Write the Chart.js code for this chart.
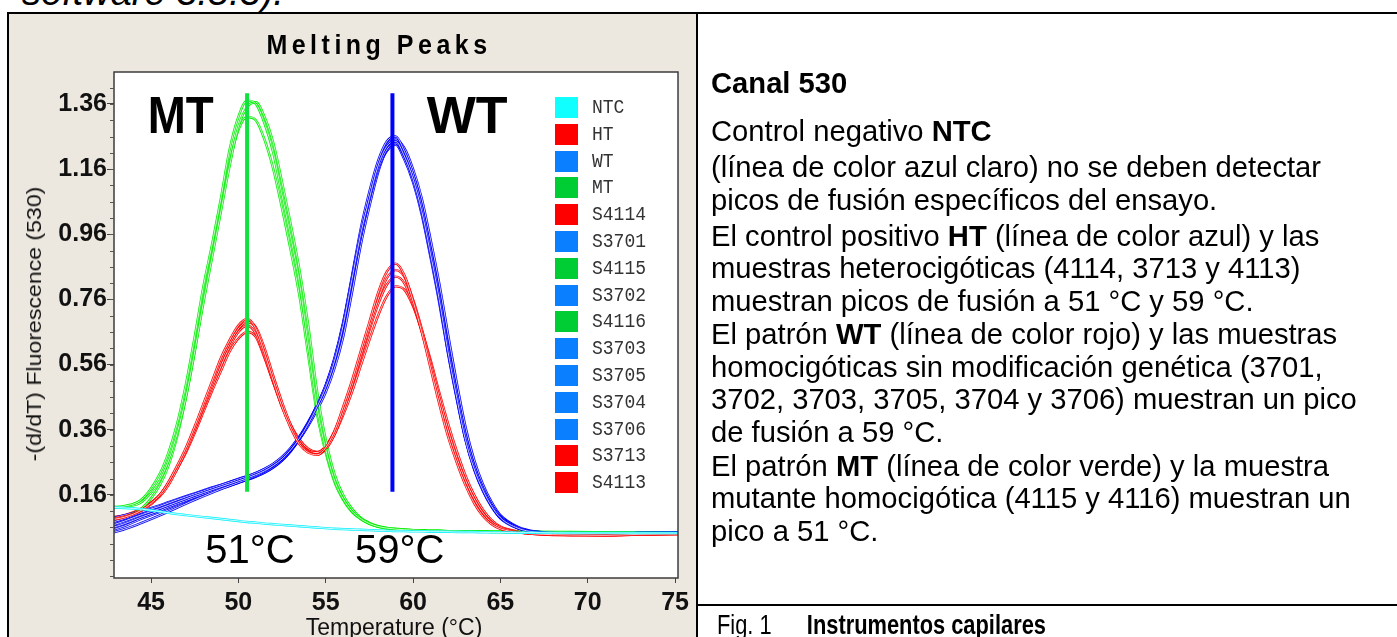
<!DOCTYPE html>
<html>
<head>
<meta charset="utf-8">
<script src="https://cdn.jsdelivr.net/npm/chart.js@4"></script>
<style>
  body { margin: 0; width: 1397px; height: 637px; overflow: hidden; position: relative; background: #fff;
         font-family: "Liberation Sans", Arial, sans-serif; color: #000; }
  .abs { position: absolute; }
  .rule { position: absolute; background: #000; }
  #leftCell { left: 9px; top: 14px; width: 688px; height: 623px; background: #ece7df; }
  #chartCanvas { position: absolute; left: 0; top: 0; }
  .txt { position: absolute; left: 711px; font-size: 29.2px; white-space: nowrap; line-height: 26px; }
  #legend .row { position: absolute; left: 555px; height: 21px; }
  #legend .sw { position: absolute; left: 0; top: 0; width: 23px; height: 21px; }
  #legend .lb { position: absolute; left: 37px; top: -2px; font-family: "Liberation Mono", "Courier New", monospace;
                font-size: 18px; color: #333; line-height: 24px; transform: scaleY(1.15); transform-origin: left center; }
</style>
</head>
<body>
<div class="abs" style="left:22px; top:-26px; font-size:38px; line-height:36px; font-style:italic; white-space:nowrap;">software 3.5.3).</div>
<div id="leftCell" class="abs"></div>
<div class="rule" style="left:7px; top:12px; width:1390px; height:2px;"></div>
<div class="rule" style="left:7px; top:12px; width:2px; height:625px;"></div>
<div class="rule" style="left:696px; top:12px; width:2px; height:625px;"></div>
<div class="rule" style="left:696px; top:604px; width:701px; height:2px;"></div>

<canvas id="chartCanvas" width="1397" height="637"></canvas>

<div class="abs" style="left:379px; top:45px; transform: translate(-50%,-50%) scaleY(1.1); font-weight:bold; font-size:25px; letter-spacing:4.5px; white-space:nowrap;">Melting Peaks</div>
<div class="abs" style="left:34px; top:324px; transform: translate(-50%,-50%) rotate(-90deg) scaleX(1.1); font-size:21px; white-space:nowrap; color:#111;">-(d/dT) Fluorescence (530)</div>
<div class="abs" style="left:394px; top:627px; transform: translate(-50%,-50%); font-size:23px; white-space:nowrap; color:#111;">Temperature (°C)</div>
<div id="legend"></div>

<div class="txt" style="top:70px; font-weight:bold;">Canal 530</div>
<div class="txt" style="top:118px;">Control negativo <b>NTC</b></div>
<div class="txt" style="top:154px;">(línea de color azul claro) no se deben detectar</div>
<div class="txt" style="top:187px;">picos de fusión específicos del ensayo.</div>
<div class="txt" style="top:223px;">El control positivo <b>HT</b> (línea de color azul) y las</div>
<div class="txt" style="top:255px;">muestras heterocigóticas (4114, 3713 y 4113)</div>
<div class="txt" style="top:288px;">muestran picos de fusión a 51 °C y 59 °C.</div>
<div class="txt" style="top:321px;">El patrón <b>WT</b> (línea de color rojo) y las muestras</div>
<div class="txt" style="top:354px;">homocigóticas sin modificación genética (3701,</div>
<div class="txt" style="top:386px;">3702, 3703, 3705, 3704 y 3706) muestran un pico</div>
<div class="txt" style="top:419px;">de fusión a 59 °C.</div>
<div class="txt" style="top:453px;">El patrón <b>MT</b> (línea de color verde) y la muestra</div>
<div class="txt" style="top:485px;">mutante homocigótica (4115 y 4116) muestran un</div>
<div class="txt" style="top:518px;">pico a 51 °C.</div>
<div class="txt" style="top:612px; left:717px; font-size:28px; transform: scaleX(0.78); transform-origin:left center;">Fig. 1&nbsp;&nbsp;&nbsp;&nbsp;<b style="margin-left:14px;">Instrumentos capilares</b></div>

<script>
// Melting peak data (temperature in °C, -(d/dT) fluorescence)
const temps = [
  42.5, 43.5, 44.5, 45.5, 46, 46.5, 47, 47.5, 48, 48.5,
  49, 49.5, 50, 50.5, 51, 51.5, 52, 52.5, 53, 53.5,
  54, 54.5, 55, 55.5, 56, 56.5, 57, 57.5, 58, 58.5,
  59, 59.5, 60, 60.5, 61, 61.5, 62, 62.5, 63, 63.5,
  64, 64.5, 65, 66, 67, 69, 71, 73, 75.5
];

const ntc = [
  0.122, 0.12, 0.116, 0.109, 0.105, 0.101, 0.098, 0.095, 0.092, 0.089,
  0.086, 0.083, 0.08, 0.077, 0.075, 0.072, 0.07, 0.068, 0.066, 0.064,
  0.062, 0.06, 0.058, 0.056, 0.055, 0.054, 0.053, 0.052, 0.051, 0.05,
  0.049, 0.049, 0.048, 0.048, 0.047, 0.047, 0.047, 0.046, 0.046, 0.046,
  0.045, 0.045, 0.045, 0.044, 0.044, 0.043, 0.043, 0.043, 0.043
];

// heterozygous (red)
const ht = [
  0.082, 0.092, 0.115, 0.16, 0.2, 0.25, 0.305, 0.37, 0.44, 0.51,
  0.58, 0.635, 0.68, 0.70, 0.67, 0.595, 0.51, 0.43, 0.365, 0.315,
  0.29, 0.283, 0.305, 0.355, 0.43, 0.51, 0.6, 0.69, 0.78, 0.845,
  0.87, 0.835, 0.755, 0.66, 0.55, 0.44, 0.34, 0.26, 0.19, 0.135,
  0.095, 0.07, 0.056, 0.045, 0.04, 0.037, 0.036, 0.039, 0.04
];
const s4114 = [
  0.085, 0.094, 0.113, 0.155, 0.19, 0.24, 0.295, 0.36, 0.43, 0.5,
  0.57, 0.625, 0.67, 0.69, 0.675, 0.61, 0.525, 0.445, 0.375, 0.322,
  0.293, 0.284, 0.3, 0.345, 0.415, 0.495, 0.585, 0.675, 0.76, 0.825,
  0.85, 0.83, 0.76, 0.67, 0.565, 0.46, 0.36, 0.275, 0.205, 0.148,
  0.105, 0.076, 0.06, 0.046, 0.04, 0.036, 0.036, 0.038, 0.04
];
const s3713 = [
  0.088, 0.096, 0.118, 0.16, 0.198, 0.245, 0.3, 0.36, 0.425, 0.49,
  0.555, 0.615, 0.66, 0.68, 0.655, 0.585, 0.505, 0.43, 0.37, 0.322,
  0.296, 0.29, 0.31, 0.355, 0.42, 0.495, 0.58, 0.665, 0.745, 0.805,
  0.83, 0.81, 0.745, 0.66, 0.56, 0.455, 0.355, 0.27, 0.2, 0.145,
  0.1, 0.074, 0.058, 0.046, 0.041, 0.038, 0.037, 0.039, 0.041
];
const s4113 = [
  0.09, 0.098, 0.12, 0.158, 0.195, 0.24, 0.29, 0.35, 0.415, 0.48,
  0.54, 0.6, 0.64, 0.66, 0.645, 0.58, 0.505, 0.435, 0.375, 0.33,
  0.302, 0.292, 0.305, 0.345, 0.405, 0.475, 0.555, 0.635, 0.71, 0.77,
  0.80, 0.79, 0.74, 0.665, 0.575, 0.475, 0.38, 0.295, 0.22, 0.16,
  0.115, 0.083, 0.063, 0.048, 0.042, 0.038, 0.037, 0.039, 0.04
];

// wild type (blue)
const wt = [
  0.062, 0.08, 0.1, 0.118, 0.128, 0.138, 0.148, 0.158, 0.167, 0.176,
  0.185, 0.194, 0.203, 0.212, 0.222, 0.234, 0.25, 0.27, 0.298, 0.334,
  0.378, 0.43, 0.49, 0.57, 0.68, 0.82, 0.96, 1.07, 1.17, 1.23,
  1.245, 1.2, 1.13, 1.03, 0.9, 0.76, 0.6, 0.46, 0.33, 0.24,
  0.175, 0.125, 0.09, 0.058, 0.046, 0.042, 0.042, 0.043, 0.045
];
const s3701 = [
  0.04, 0.055, 0.075, 0.097, 0.109, 0.121, 0.133, 0.145, 0.156, 0.167,
  0.178, 0.188, 0.198, 0.208, 0.219, 0.232, 0.249, 0.27, 0.299, 0.336,
  0.381, 0.435, 0.497, 0.58, 0.69, 0.83, 0.975, 1.09, 1.185, 1.245,
  1.26, 1.215, 1.145, 1.045, 0.915, 0.775, 0.615, 0.475, 0.345, 0.25,
  0.182, 0.13, 0.094, 0.06, 0.047, 0.043, 0.042, 0.043, 0.045
];
const s3702 = [
  0.072, 0.088, 0.108, 0.125, 0.135, 0.145, 0.154, 0.163, 0.172, 0.181,
  0.19, 0.199, 0.208, 0.217, 0.227, 0.24, 0.256, 0.277, 0.305, 0.34,
  0.384, 0.435, 0.495, 0.575, 0.68, 0.815, 0.95, 1.065, 1.16, 1.22,
  1.24, 1.2, 1.135, 1.04, 0.91, 0.77, 0.615, 0.47, 0.34, 0.245,
  0.178, 0.128, 0.092, 0.059, 0.047, 0.043, 0.043, 0.044, 0.046
];
const s3703 = [
  0.085, 0.098, 0.112, 0.128, 0.138, 0.147, 0.156, 0.165, 0.174, 0.183,
  0.191, 0.2, 0.209, 0.218, 0.228, 0.239, 0.254, 0.273, 0.299, 0.331,
  0.372, 0.42, 0.475, 0.548, 0.645, 0.78, 0.925, 1.045, 1.15, 1.22,
  1.25, 1.225, 1.16, 1.07, 0.945, 0.81, 0.655, 0.505, 0.37, 0.268,
  0.193, 0.138, 0.098, 0.062, 0.048, 0.043, 0.042, 0.043, 0.045
];
const s3705 = [
  0.055, 0.072, 0.093, 0.112, 0.123, 0.133, 0.143, 0.153, 0.162, 0.171,
  0.18, 0.189, 0.198, 0.207, 0.217, 0.229, 0.245, 0.266, 0.295, 0.332,
  0.377, 0.43, 0.492, 0.572, 0.68, 0.815, 0.955, 1.065, 1.16, 1.215,
  1.235, 1.19, 1.12, 1.02, 0.89, 0.75, 0.595, 0.455, 0.33, 0.238,
  0.172, 0.123, 0.088, 0.057, 0.046, 0.042, 0.041, 0.042, 0.044
];
const s3704 = [
  0.068, 0.084, 0.104, 0.121, 0.131, 0.141, 0.151, 0.16, 0.169, 0.178,
  0.187, 0.196, 0.205, 0.214, 0.224, 0.236, 0.251, 0.271, 0.298, 0.333,
  0.375, 0.425, 0.483, 0.56, 0.665, 0.8, 0.94, 1.06, 1.16, 1.225,
  1.245, 1.21, 1.145, 1.05, 0.925, 0.79, 0.635, 0.49, 0.355, 0.258,
  0.186, 0.133, 0.095, 0.06, 0.047, 0.043, 0.042, 0.043, 0.045
];
const s3706 = [
  0.048, 0.065, 0.088, 0.108, 0.119, 0.13, 0.141, 0.151, 0.161, 0.17,
  0.179, 0.188, 0.197, 0.206, 0.216, 0.228, 0.244, 0.265, 0.294, 0.331,
  0.376, 0.43, 0.493, 0.575, 0.685, 0.825, 0.965, 1.08, 1.175, 1.235,
  1.25, 1.205, 1.135, 1.035, 0.905, 0.765, 0.605, 0.465, 0.335, 0.243,
  0.176, 0.126, 0.091, 0.058, 0.046, 0.042, 0.042, 0.043, 0.045
];

// mutant (green)
const mt = [
  0.122, 0.126, 0.148, 0.225, 0.29, 0.38, 0.50, 0.645, 0.80, 0.93,
  1.07, 1.22, 1.32, 1.37, 1.36, 1.30, 1.21, 1.08, 0.95, 0.81,
  0.62, 0.43, 0.30, 0.205, 0.148, 0.11, 0.087, 0.072, 0.063, 0.058,
  0.055, 0.053, 0.052, 0.051, 0.05, 0.05, 0.049, 0.049, 0.048, 0.048,
  0.048, 0.047, 0.047, 0.046, 0.046, 0.045, 0.044, 0.043, 0.043
];
const s4115 = [
  0.12, 0.124, 0.14, 0.205, 0.265, 0.35, 0.46, 0.60, 0.75, 0.89,
  1.03, 1.17, 1.29, 1.35, 1.365, 1.32, 1.24, 1.12, 0.99, 0.85,
  0.68, 0.48, 0.33, 0.225, 0.16, 0.118, 0.09, 0.074, 0.064, 0.059,
  0.056, 0.054, 0.052, 0.051, 0.05, 0.05, 0.049, 0.049, 0.048, 0.048,
  0.047, 0.047, 0.047, 0.046, 0.046, 0.046, 0.045, 0.044, 0.044
];
const s4116 = [
  0.085, 0.092, 0.12, 0.19, 0.25, 0.34, 0.46, 0.60, 0.76, 0.90,
  1.04, 1.18, 1.28, 1.32, 1.31, 1.25, 1.16, 1.04, 0.91, 0.77,
  0.59, 0.41, 0.29, 0.2, 0.145, 0.108, 0.086, 0.071, 0.062, 0.057,
  0.054, 0.052, 0.051, 0.05, 0.049, 0.049, 0.048, 0.048, 0.047, 0.047,
  0.047, 0.046, 0.046, 0.045, 0.045, 0.044, 0.044, 0.043, 0.043
];

// legend order as in the instrument software
const sampleNames = ['NTC', 'HT', 'WT', 'MT', 'S4114', 'S3701', 'S4115', 'S3702', 'S4116', 'S3703', 'S3705', 'S3704', 'S3706', 'S3713', 'S4113'];
const sampleData = [ntc, ht, wt, mt, s4114, s3701, s4115, s3702, s4116, s3703, s3705, s3704, s3706, s3713, s4113];
const sampleGroup = ['ntc', 'ht', 'wt', 'mt', 'ht', 'wt', 'mt', 'wt', 'mt', 'wt', 'wt', 'wt', 'wt', 'ht', 'ht'];

const curveColors = { ntc: '#00f0ff', ht: '#ff0000', wt: '#0000ff', mt: '#00ee00' };
const legendColors = { ntc: '#10ffff', ht: '#ff0000', wt: '#0a7fff', mt: '#00cc33' };

// melting peak markers
const peakTemps = [50.5, 58.82];
const peakColors = ['#10e040', '#0000ff'];
const markerRange = [0.17, 1.393];
const peakLabels = ['51°C', '59°C'];
const genotypeLabels = ['MT', 'WT'];

// axis ticks
const xTicks = [45, 50, 55, 60, 65, 70, 75];
const yTicks = [0.16, 0.36, 0.56, 0.76, 0.96, 1.16, 1.36];

// Build datasets
const datasets = [];
peakTemps.forEach(function(t, i) {
    datasets.push({
        label: 'peak ' + peakLabels[i],
        data: [{ x: t, y: markerRange[0] }, { x: t, y: markerRange[1] }],
        borderColor: peakColors[i],
        borderWidth: 4,
        pointRadius: 0
    });
});
sampleNames.forEach(function(name, i) {
    datasets.push({
        label: name,
        data: sampleData[i].map((v, k) => ({ x: temps[k], y: v })),
        borderColor: curveColors[sampleGroup[i]],
        borderWidth: 2.4,
        pointRadius: 0,
        fill: false,
        hollow: true,
        cubicInterpolationMode: 'monotone'
    });
});

// White plot area, frame, minor y ticks
const framePlugin = {
    id: 'frame',
    beforeDraw(chart) {
        const a = chart.chartArea, ctx = chart.ctx;
        ctx.save();
        ctx.fillStyle = '#ffffff';
        ctx.fillRect(a.left, a.top, a.right - a.left, a.bottom - a.top);
        ctx.restore();
    },
    afterDraw(chart) {
        const a = chart.chartArea, ctx = chart.ctx, y = chart.scales.y;
        ctx.save();
        ctx.strokeStyle = '#3c3c3c';
        ctx.lineWidth = 1.5;
        ctx.strokeRect(a.left, a.top, a.right - a.left, a.bottom - a.top);
        ctx.lineWidth = 1;
        ctx.strokeStyle = '#555';
        for (let v = -0.09; v < y.max; v += 0.05) {
            const py = Math.round(y.getPixelForValue(v)) + 0.5;
            ctx.beginPath();
            ctx.moveTo(a.left - 4, py);
            ctx.lineTo(a.left, py);
            ctx.stroke();
        }
        ctx.restore();
    }
};

// The instrument draws its curves as thin double lines: re-stroke a white core
const hollowPlugin = {
    id: 'hollow',
    afterDatasetDraw(chart, args) {
        const ds = chart.data.datasets[args.index];
        if (!ds.hollow) return;
        const el = args.meta.dataset;
        const a = chart.chartArea, ctx = chart.ctx;
        const saved = el.options;
        ctx.save();
        ctx.beginPath();
        ctx.rect(a.left, a.top, a.right - a.left, a.bottom - a.top);
        ctx.clip();
        el.options = Object.assign({}, saved, { borderColor: '#ffffff', borderWidth: 0.8 });
        el.draw(ctx, a);
        el.options = saved;
        ctx.restore();
    }
};

// Big genotype / temperature annotations
const labelPlugin = {
    id: 'peakText',
    afterDatasetsDraw(chart) {
        const ctx = chart.ctx, x = chart.scales.x, y = chart.scales.y;
        ctx.save();
        ctx.fillStyle = '#000';
        ctx.textAlign = 'center';
        ctx.textBaseline = 'alphabetic';
        ctx.font = 'bold 52px "Liberation Sans", Arial, sans-serif';
        ctx.fillText(genotypeLabels[0], x.getPixelForValue(46.7), y.getPixelForValue(1.27), 66);
        ctx.fillText(genotypeLabels[1], x.getPixelForValue(63.1), y.getPixelForValue(1.27), 82);
        ctx.font = '40px "Liberation Sans", Arial, sans-serif';
        ctx.fillText(peakLabels[0], x.getPixelForValue(50.66), y.getPixelForValue(-0.049));
        ctx.fillText(peakLabels[1], x.getPixelForValue(59.23), y.getPixelForValue(-0.049));
        ctx.restore();
    }
};

const tickFont = { family: '"Liberation Sans", Arial, sans-serif', size: 25, weight: 'bold' };

const chart = new Chart(document.getElementById('chartCanvas').getContext('2d'), {
    type: 'line',
    data: { datasets: datasets },
    options: {
        responsive: false,
        animation: false,
        events: [],
        layout: { padding: { left: 14, top: 72, right: 719, bottom: 9 } },
        plugins: {
            legend: { display: false },
            title: { display: false },
            tooltip: { enabled: false }
        },
        scales: {
            x: {
                type: 'linear',
                min: 42.88,
                max: 75.17,
                afterFit: function(scale) { scale.height = 50; },
                afterBuildTicks: function(scale) { scale.ticks = xTicks.map(v => ({ value: v })); },
                grid: { drawOnChartArea: false, drawTicks: true, tickLength: 5, color: '#444' },
                border: { display: false },
                ticks: { font: tickFont, color: '#111', padding: 5, maxRotation: 0, autoSkip: false }
            },
            y: {
                type: 'linear',
                min: -0.095,
                max: 1.458,
                afterFit: function(scale) { scale.width = 100; },
                afterBuildTicks: function(scale) { scale.ticks = yTicks.map(v => ({ value: v })); },
                grid: { drawOnChartArea: false, drawTicks: true, tickLength: 7, color: '#444' },
                border: { display: false },
                ticks: { font: tickFont, color: '#111', padding: 0, callback: v => v.toFixed(2) }
            }
        }
    },
    plugins: [framePlugin, hollowPlugin, labelPlugin]
});

// Legend drawn as HTML squares next to the plot
const legend = document.getElementById('legend');
sampleNames.forEach(function(name, i) {
    const row = document.createElement('div');
    row.className = 'row';
    row.style.top = (97 + i * 26.8) + 'px';
    row.innerHTML = '<div class="sw" style="background:' + legendColors[sampleGroup[i]] + '"></div><div class="lb">' + name + '</div>';
    legend.appendChild(row);
});
</script>
</body>
</html>
